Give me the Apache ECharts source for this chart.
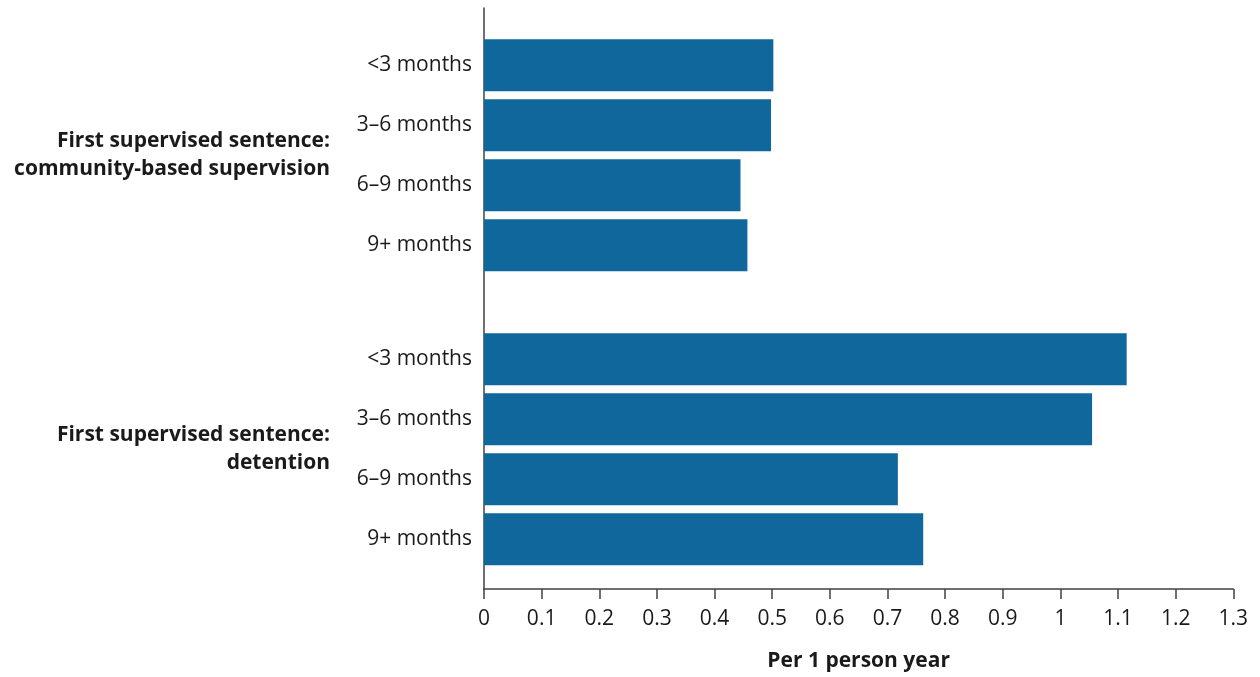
<!DOCTYPE html>
<html><head><meta charset="utf-8">
<script src="https://cdn.jsdelivr.net/npm/echarts@6/dist/echarts.min.js"></script>
<style>html,body{margin:0;padding:0;background:#fff}#c{width:1260px;height:677px}</style>
</head><body><div id="c"></div>
<script>
var categories = ['<3 months', '3–6 months', '6–9 months', '9+ months'];
var groupNames = ['First supervised sentence:\ncommunity-based supervision', 'First supervised sentence:\ndetention'];
var communityValues = [0.502, 0.498, 0.445, 0.457];
var detentionValues = [1.115, 1.055, 0.718, 0.762];
var xAxisName = 'Per 1 person year';

var FONT = '"Open Sans", "Noto Sans", sans-serif';
var AXIS_COLOR = '#404040';
var TEXT_COLOR = '#1a1a1a';
var BAR_COLOR = '#10679b';
var FS = 21;

function groupY(idx, name) {
  return {
    type: 'category', gridIndex: idx, data: categories, inverse: true,
    axisLine: {show: false}, axisTick: {show: false},
    axisLabel: {fontFamily: FONT, fontSize: FS, color: TEXT_COLOR, margin: 12, padding: [5, 0, 0, 0]},
    name: name, nameLocation: 'middle', nameRotate: 0, nameGap: 154,
    nameTextStyle: {fontFamily: FONT, fontSize: FS, fontWeight: 'bold', color: TEXT_COLOR, align: 'right',
      lineHeight: 28, padding: [4, 0, 0, 0]}
  };
}
function hiddenX(idx) {
  return {type: 'value', gridIndex: idx, min: 0, max: 1.3, show: false};
}

var chart = echarts.init(document.getElementById('c'), null, {renderer: 'canvas'});
chart.setOption({
  animation: false,
  grid: [
    {left: 484, right: 26.7, top: 8, bottom: 83},
    {left: 484, right: 26.7, top: 35.3, height: 240},
    {left: 484, right: 26.7, top: 329.3, height: 240}
  ],
  xAxis: [
    {type: 'value', gridIndex: 0, min: 0, max: 1.3, interval: 0.1,
     axisLine: {show: true, lineStyle: {color: AXIS_COLOR, width: 1.5}},
     axisTick: {show: true, length: 10, lineStyle: {color: AXIS_COLOR, width: 1.5}},
     splitLine: {show: false},
     axisLabel: {fontFamily: FONT, fontSize: FS, color: TEXT_COLOR, margin: 20,
       formatter: function (v) { return String(Math.round(v * 10) / 10); }},
     name: xAxisName, nameLocation: 'middle', nameGap: 62,
     nameTextStyle: {fontFamily: FONT, fontSize: FS, fontWeight: 'bold', color: TEXT_COLOR}
    },
    hiddenX(1), hiddenX(2)
  ],
  yAxis: [
    {type: 'value', gridIndex: 0, min: 0, max: 1,
     axisLine: {show: true, lineStyle: {color: AXIS_COLOR, width: 1.5}},
     axisTick: {show: false}, axisLabel: {show: false}, splitLine: {show: false}},
    groupY(1, groupNames[0]),
    groupY(2, groupNames[1])
  ],
  series: [
    {type: 'bar', xAxisIndex: 1, yAxisIndex: 1, data: communityValues, barWidth: 52,
     itemStyle: {color: BAR_COLOR}},
    {type: 'bar', xAxisIndex: 2, yAxisIndex: 2, data: detentionValues, barWidth: 52,
     itemStyle: {color: BAR_COLOR}}
  ]
});
</script></body></html>
